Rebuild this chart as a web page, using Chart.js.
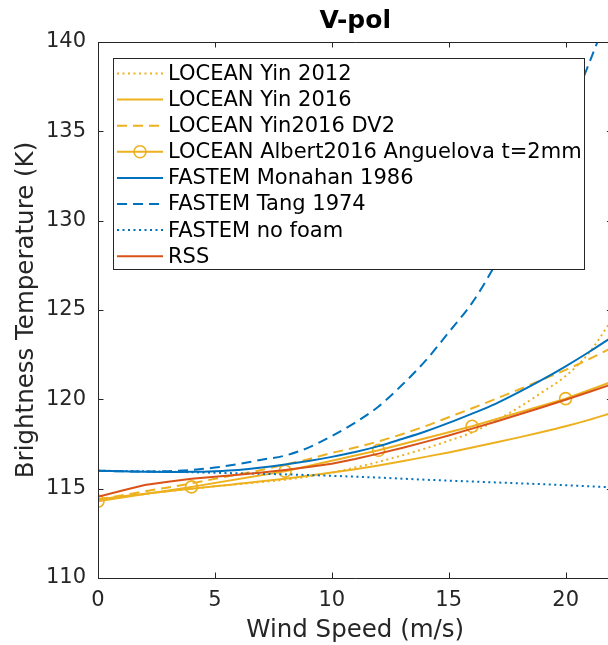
<!DOCTYPE html>
<html>
<head>
<meta charset="utf-8">
<script src="https://cdn.jsdelivr.net/npm/chart.js@4.4.1/dist/chart.umd.min.js"></script>
<style>
  html, body { margin: 0; padding: 0; overflow: hidden; background: #fff; }
  canvas { display: block; }
</style>
</head>
<body>
<canvas id="vpol-chart" width="620" height="645"></canvas>
<script>
// Wind speed grids (m/s)
const windFine = [0, 1, 2, 3, 4, 5, 6, 7, 8, 9, 10, 11, 12, 13, 14, 15, 16, 17, 18, 19, 20, 21, 22];
const windMarkers = [0, 4, 8, 12, 16, 20, 24];

// V-pol brightness temperature (K)
const yin2012 = [114.35, 114.53, 114.7, 114.86, 115.0, 115.13, 115.25, 115.37, 115.5, 115.68, 115.9, 116.18,
  116.5, 116.86, 117.25, 117.68, 118.15, 118.8, 119.55, 120.4, 121.3, 122.6, 124.5];
const yin2016 = [114.4, 114.56, 114.72, 114.86, 115.0, 115.13, 115.27, 115.41, 115.56, 115.72, 115.9, 116.09,
  116.3, 116.53, 116.78, 117.03, 117.3, 117.58, 117.87, 118.17, 118.49, 118.85, 119.25];
const yin2016dv2 = [114.4, 114.62, 114.85, 115.07, 115.3, 115.55, 115.8, 116.05, 116.35, 116.65, 117.0, 117.3,
  117.65, 118.05, 118.5, 119.0, 119.5, 120.02, 120.55, 121.1, 121.65, 122.25, 122.9];
const albert2016 = [114.3, 115.1, 115.98, 117.15, 118.49, 120.04, 121.95];
const monahan1986 = [116.0, 115.97, 115.94, 115.93, 115.94, 115.98, 116.05, 116.18, 116.35, 116.55, 116.78, 117.05,
  117.38, 117.78, 118.2, 118.68, 119.2, 119.75, 120.4, 121.1, 121.85, 122.65, 123.5];
const tang1974 = [116.0, 115.97, 115.96, 115.98, 116.05, 116.18, 116.38, 116.62, 116.85, 117.3, 117.95, 118.7,
  119.6, 120.8, 122.15, 123.75, 125.4, 127.55, 130.0, 132.7, 135.6, 138.8, 142.2];
const noFoam = [116.0, 115.99, 115.97, 115.95, 115.92, 115.89, 115.86, 115.83, 115.8, 115.76, 115.72, 115.67,
  115.62, 115.56, 115.5, 115.45, 115.4, 115.35, 115.3, 115.25, 115.19, 115.13, 115.07];
const rss = [114.55, 114.88, 115.2, 115.39, 115.55, 115.67, 115.78, 115.9, 116.05, 116.21, 116.4, 116.66,
  116.96, 117.28, 117.62, 117.98, 118.36, 118.75, 119.15, 119.56, 119.98, 120.41, 120.85];

const xTicks = [0, 5, 10, 15, 20];
const yTicks = [110, 115, 120, 125, 130, 135, 140];

const BLUE = '#0072BD';
const RED = '#D95319';
const YELLOW = '#EDB120';
const INK = '#262626';
const FONT = '"DejaVu Sans", sans-serif';
const DOTS = [2, 3.5];
const DASH = [10, 6];

const pts = (xs, ys) => xs.map((x, i) => ({ x, y: ys[i] }));

const series = [
  { label: 'LOCEAN Yin 2012', data: pts(windFine, yin2012), borderColor: YELLOW, borderDash: DOTS },
  { label: 'LOCEAN Yin 2016', data: pts(windFine, yin2016), borderColor: YELLOW },
  { label: 'LOCEAN Yin2016 DV2', data: pts(windFine, yin2016dv2), borderColor: YELLOW, borderDash: DASH },
  { label: 'LOCEAN Albert2016 Anguelova t=2mm', data: pts(windMarkers, albert2016), borderColor: YELLOW,
    pointRadius: 6, pointBorderWidth: 1.6, pointStyle: 'circle', cubicInterpolationMode: 'default' },
  { label: 'FASTEM Monahan 1986', data: pts(windFine, monahan1986), borderColor: BLUE },
  { label: 'FASTEM Tang 1974', data: pts(windFine, tang1974), borderColor: BLUE, borderDash: DASH },
  { label: 'FASTEM no foam', data: pts(windFine, noFoam), borderColor: BLUE, borderDash: DOTS },
  { label: 'RSS', data: pts(windFine, rss), borderColor: RED, cubicInterpolationMode: 'default' },
].map((s, i, all) => Object.assign({
  borderWidth: 2,
  pointRadius: 0,
  pointBackgroundColor: 'rgba(0,0,0,0)',
  pointBorderColor: s.borderColor,
  fill: false,
  cubicInterpolationMode: 'monotone',
  borderCapStyle: 'butt',
  order: all.length - i, // later series on top, like the source figure
}, s));

// box around the axes with inward ticks on all four sides
const boxAxes = {
  id: 'boxAxes',
  afterDatasetsDraw(chart) {
    const { ctx, chartArea: a, scales: { x, y } } = chart;
    const tick = 5.5;
    ctx.save();
    ctx.strokeStyle = INK;
    ctx.lineWidth = 1;
    ctx.setLineDash([]);
    ctx.beginPath();
    ctx.rect(a.left + 0.5, a.top + 0.5, a.right - a.left - 1, a.bottom - a.top);
    xTicks.forEach(v => {
      const px = Math.round(x.getPixelForValue(v)) + 0.5;
      ctx.moveTo(px, a.bottom); ctx.lineTo(px, a.bottom - tick);
      ctx.moveTo(px, a.top); ctx.lineTo(px, a.top + tick);
    });
    yTicks.forEach(v => {
      const py = Math.round(y.getPixelForValue(v)) + 0.5;
      ctx.moveTo(a.left, py); ctx.lineTo(a.left + tick, py);
      ctx.moveTo(a.right, py); ctx.lineTo(a.right - tick, py);
    });
    ctx.stroke();

    ctx.fillStyle = '#000';
    ctx.font = 'bold 25px ' + FONT;
    ctx.textAlign = 'center';
    ctx.textBaseline = 'middle';
    ctx.fillText('V-pol', (a.left + a.right) / 2, 21);
    ctx.restore();
  }
};

// legend box in the upper left of the axes
const boxLegend = {
  id: 'boxLegend',
  afterDatasetsDraw(chart) {
    const ctx = chart.ctx;
    const box = { left: 113.5, top: 58.5, width: 471, height: 211 };
    ctx.save();
    ctx.fillStyle = '#fff';
    ctx.fillRect(box.left, box.top, box.width, box.height);
    ctx.strokeStyle = INK;
    ctx.lineWidth = 1;
    ctx.strokeRect(box.left, box.top, box.width, box.height);
    ctx.font = '21px ' + FONT;
    ctx.textAlign = 'left';
    ctx.textBaseline = 'middle';
    chart.data.datasets.forEach((ds, i) => {
      const yy = 73.5 + i * 26.1;
      ctx.strokeStyle = ds.borderColor;
      ctx.lineWidth = ds.borderWidth;
      ctx.setLineDash(ds.borderDash || []);
      ctx.beginPath();
      ctx.moveTo(117, yy);
      ctx.lineTo(163, yy);
      ctx.stroke();
      if (ds.pointRadius > 0) {
        ctx.setLineDash([]);
        ctx.lineWidth = ds.pointBorderWidth;
        ctx.beginPath();
        ctx.arc(140, yy, ds.pointRadius, 0, Math.PI * 2);
        ctx.stroke();
      }
      ctx.fillStyle = '#000';
      ctx.fillText(ds.label, 168, yy + 1);
    });
    ctx.restore();
  }
};

new Chart(document.getElementById('vpol-chart'), {
  type: 'line',
  data: { datasets: series },
  options: {
    responsive: false,
    animation: false,
    layout: { padding: { top: 42, left: 0, right: 0, bottom: 0 } },
    plugins: { legend: { display: false }, title: { display: false }, tooltip: { enabled: false } },
    scales: {
      x: {
        type: 'linear',
        min: 0,
        max: 22,
        afterFit: s => { s.height = 67; },
        afterBuildTicks: s => { s.ticks = xTicks.map(v => ({ value: v })); },
        ticks: { padding: 10, color: INK, font: { family: FONT, size: 21 } },
        grid: { display: false, drawTicks: false },
        border: { display: false },
        title: { display: true, text: 'Wind Speed (m/s)', color: INK, font: { family: FONT, size: 24.5 },
          padding: { top: 0, bottom: 0 } },
      },
      y: {
        type: 'linear',
        min: 110,
        max: 140,
        afterFit: s => { s.width = 98; },
        afterBuildTicks: s => { s.ticks = yTicks.map(v => ({ value: v })); },
        ticks: { padding: 12, color: INK, font: { family: FONT, size: 21 } },
        grid: { display: false, drawTicks: false },
        border: { display: false },
        title: { display: true, text: 'Brightness Temperature (K)', color: INK, font: { family: FONT, size: 24.5 },
          padding: { top: 12, bottom: 0 } },
      },
    },
  },
  plugins: [boxAxes, boxLegend],
});
</script>
</body>
</html>
